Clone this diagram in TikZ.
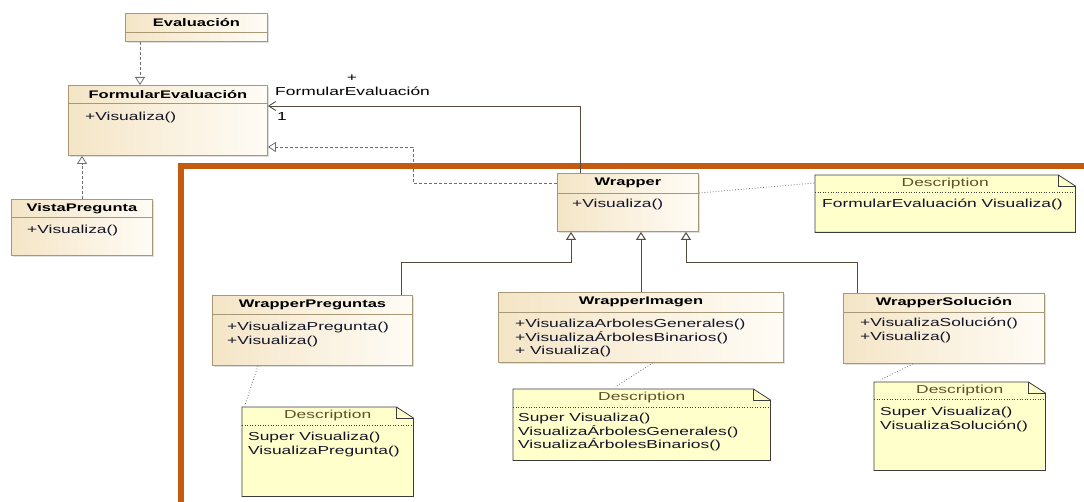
\documentclass[tikz,border=0pt]{standalone}
\usepackage{fontspec}
\setmainfont{Liberation Sans}[FakeStretch=1.5]
\usepackage{tikz}
\usetikzlibrary{arrows.meta, positioning, calc, shadows}
\definecolor{cframe}{RGB}{197,90,17}
\definecolor{cborder}{RGB}{168,152,118}
\definecolor{cfilldark}{RGB}{244,229,198}
\definecolor{cfilllight}{RGB}{255,252,246}
\definecolor{cnote}{RGB}{255,255,204}
\definecolor{cnoteline}{RGB}{60,60,60}
\definecolor{cnotetxt}{RGB}{95,80,45}
\definecolor{ctext}{RGB}{20,20,40}
\definecolor{cline}{RGB}{85,76,62}
\definecolor{cdash}{RGB}{110,110,110}

% note outline with folded corner
\newcommand{\dogear}[1]{%
  \filldraw[fill=cnote, draw=cnoteline, line width=0.8pt] (#1.north west) -- ([xshift=-17pt]#1.north east)
    -- ([yshift=-11pt]#1.north east) -- (#1.south east) -- (#1.south west) -- cycle;
  \draw[cnoteline, line width=0.8pt] ([xshift=-17pt]#1.north east) |- ([yshift=-11pt]#1.north east);}

\begin{document}
\begin{tikzpicture}[
    x=1pt, y=-1pt,
    every node/.style={font=\fontsize{11.6}{13.5}\selectfont, inner sep=0pt},
    umlclass/.style={draw=cborder, line width=0.9pt, left color=cfilldark, right color=cfilllight,
        anchor=north west, drop shadow={shadow xshift=1.5pt, shadow yshift=-1.5pt, opacity=0.25}},
    clstitle/.style={font=\fontsize{11}{13.5}\selectfont\bfseries},
    clsops/.style={anchor=north west, align=left, text=ctext},
    divider/.style={draw=cborder, line width=0.9pt},
    notebox/.style={anchor=north west},
    notehead/.style={text=cnotetxt},
    notesep/.style={draw=cnoteline, dotted, line width=0.6pt},
    notetxt/.style={anchor=north west, align=left, text=ctext},
    notelink/.style={draw=cdash, dotted, line width=0.8pt},
    realize/.style={draw=cdash, line width=0.8pt, dash pattern=on 3pt off 2pt,
        -{Triangle[length=8pt, width=10pt, fill=white]}},
    inherit/.style={draw=cline, line width=1pt, -{Triangle[length=8pt, width=10pt, fill=white]}},
    assoc/.style={draw=cline, line width=0.9pt, -{Straight Barb[length=7pt, width=9pt]}},
    orangeframe/.style={draw=cframe, line width=6pt},
]
    \useasboundingbox (0,0) rectangle (1084,502);

    % Frame
    \draw[orangeframe] (181,502) -- (181,166) -- (1084,166);

    % Evaluacion
    \node[umlclass, minimum width=142pt, minimum height=28pt] (evaluacion) at (125,13) {};
    \draw[divider] ([yshift=-19pt]evaluacion.north west) -- ([yshift=-19pt]evaluacion.north east);
    \node[clstitle] (evaltitle) at ([yshift=-10pt]evaluacion.north) {Evaluación};

    % FormularEvaluacion
    \node[umlclass, minimum width=199pt, minimum height=70pt] (formular) at (68,85) {};
    \draw[divider] ([yshift=-18pt]formular.north west) -- ([yshift=-18pt]formular.north east);
    \node[clstitle] (formulartitle) at ([yshift=-9.5pt]formular.north) {FormularEvaluación};
    \node[clsops] (formularops) at ([xshift=17pt, yshift=-27pt]formular.north west) {+Visualiza()};

    % VistaPregunta
    \node[umlclass, minimum width=141pt, minimum height=56pt] (vista) at (11,199) {};
    \draw[divider] ([yshift=-18pt]vista.north west) -- ([yshift=-18pt]vista.north east);
    \node[clstitle] (vistatitle) at ([yshift=-9.5pt]vista.north) {VistaPregunta};
    \node[clsops] (vistaops) at ([xshift=16pt, yshift=-26pt]vista.north west) {+Visualiza()};

    % Wrapper
    \node[umlclass, minimum width=141pt, minimum height=58pt] (wrapper) at (557,173) {};
    \draw[divider] ([yshift=-20pt]wrapper.north west) -- ([yshift=-20pt]wrapper.north east);
    \node[clstitle] (wrappertitle) at ([yshift=-10pt]wrapper.north) {Wrapper};
    \node[clsops] (wrapperops) at ([xshift=15pt, yshift=-26pt]wrapper.north west) {+Visualiza()};

    % WrapperPreguntas
    \node[umlclass, minimum width=200pt, minimum height=70pt] (preguntas) at (212,295) {};
    \draw[divider] ([yshift=-19pt]preguntas.north west) -- ([yshift=-19pt]preguntas.north east);
    \node[clstitle] (preguntastitle) at ([yshift=-9.5pt]preguntas.north) {WrapperPreguntas};
    \node[clsops] (preguntasops) at ([xshift=15pt, yshift=-27pt]preguntas.north west)
        {+VisualizaPregunta()\\+Visualiza()};

    % WrapperImagen
    \node[umlclass, minimum width=285pt, minimum height=70pt] (imagen) at (498,292) {};
    \draw[divider] ([yshift=-20pt]imagen.north west) -- ([yshift=-20pt]imagen.north east);
    \node[clstitle] (imagentitle) at ([yshift=-10pt]imagen.north) {WrapperImagen};
    \node[clsops] (imagenops) at ([xshift=17pt, yshift=-27pt]imagen.north west)
        {+VisualizaArbolesGenerales()\\+VisualizaÁrbolesBinarios()\\+ Visualiza()};

    % WrapperSolucion
    \node[umlclass, minimum width=201pt, minimum height=70pt] (solucion) at (843,293) {};
    \draw[divider] ([yshift=-19pt]solucion.north west) -- ([yshift=-19pt]solucion.north east);
    \node[clstitle] (soluciontitle) at ([yshift=-9.5pt]solucion.north) {WrapperSolución};
    \node[clsops] (solucionops) at ([xshift=17pt, yshift=-25pt]solucion.north west)
        {+VisualizaSolución()\\+Visualiza()};

    % Notes
    \node[notebox, minimum width=260pt, minimum height=57pt] (ndesc) at (815,175) {};
    \dogear{ndesc}
    \draw[notesep] ([yshift=-17pt]ndesc.north west) -- ([yshift=-17pt]ndesc.north east);
    \node[notehead] (ndeschead) at ([yshift=-8.5pt]ndesc.north) {Description};
    \node[notetxt] (ndesctxt) at ([xshift=7pt, yshift=-24pt]ndesc.north west) {FormularEvaluación Visualiza()};

    \node[notebox, minimum width=171pt, minimum height=89pt] (npreg) at (242,407) {};
    \dogear{npreg}
    \draw[notesep] ([yshift=-18pt]npreg.north west) -- ([yshift=-18pt]npreg.north east);
    \node[notehead] (npreghead) at ([yshift=-9pt]npreg.north) {Description};
    \node[notetxt] (npregtxt) at ([xshift=6pt, yshift=-25pt]npreg.north west)
        {Super Visualiza()\\VisualizaPregunta()};

    \node[notebox, minimum width=257pt, minimum height=71pt] (nimg) at (513,389) {};
    \dogear{nimg}
    \draw[notesep] ([yshift=-18pt]nimg.north west) -- ([yshift=-18pt]nimg.north east);
    \node[notehead] (nimghead) at ([yshift=-9pt]nimg.north) {Description};
    \node[notetxt] (nimgtxt) at ([xshift=5pt, yshift=-24pt]nimg.north west)
        {Super Visualiza()\\VisualizaÁrbolesGenerales()\\VisualizaÁrbolesBinarios()};

    \node[notebox, minimum width=171pt, minimum height=88pt] (nsol) at (874,382) {};
    \dogear{nsol}
    \draw[notesep] ([yshift=-17pt]nsol.north west) -- ([yshift=-17pt]nsol.north east);
    \node[notehead] (nsolhead) at ([yshift=-8.5pt]nsol.north) {Description};
    \node[notetxt] (nsoltxt) at ([xshift=6pt, yshift=-25pt]nsol.north west)
        {Super Visualiza()\\VisualizaSolución()};

    % Note links
    \draw[notelink] ([yshift=-20pt]wrapper.north east) -- ([yshift=-8pt]ndesc.north west);
    \draw[notelink] ([xshift=46pt]preguntas.south west) -- ([xshift=3pt, yshift=2pt]npreg.north west);
    \draw[notelink] ([xshift=155pt]imagen.south west) -- ([xshift=102pt, yshift=2pt]nimg.north west);
    \draw[notelink] ([xshift=70pt]solucion.south west) -- ([xshift=6pt, yshift=2pt]nsol.north west);

    % Realizations
    \draw[realize] ([xshift=15pt]evaluacion.south west) -- ([xshift=15pt]evaluacion.south west |- formular.north);
    \draw[realize] ([xshift=71pt]vista.north west) -- ([xshift=71pt]vista.north west |- formular.south);
    \coordinate (bend) at (413,147);
    \draw[realize] ([yshift=-10pt]wrapper.north west) -| (bend) -- (bend -| formular.east);

    % Association
    \draw[assoc] ([xshift=23pt]wrapper.north west) |- ([yshift=-21pt]formular.north east);
    \node (arole) at (352,78) {+};
    \node[anchor=west] (aname) at (275,91) {FormularEvaluación};
    \node[anchor=west] (amult) at (277,117) {1};

    % Generalizations
    \coordinate (genl) at (571,263);
    \coordinate (genr) at (686,263);
    \draw[inherit] ([xshift=189pt]preguntas.north west) |- (genl) -- (genl |- wrapper.south);
    \draw[inherit] ([xshift=143pt]imagen.north west) -- ([xshift=143pt]imagen.north west |- wrapper.south);
    \draw[inherit] ([xshift=14pt]solucion.north west) |- (genr) -- (genr |- wrapper.south);
\end{tikzpicture}
\end{document}
